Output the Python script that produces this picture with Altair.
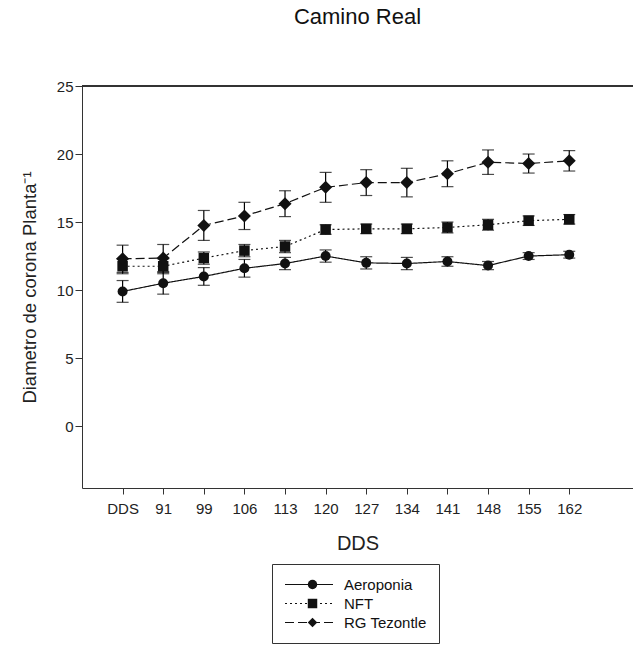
import json
import altair as alt
import pandas as pd

# ---- data ----
dias = ["DDS", "91", "99", "106", "113", "120", "127", "134", "141", "148", "155", "162"]
series = ["Aeroponia", "NFT", "RG Tezontle"]
aeroponia = [9.9, 10.5, 11.0, 11.6, 11.95, 12.5, 12.0, 11.95, 12.1, 11.8, 12.5, 12.6]
aeroponia_err = [0.8, 0.8, 0.65, 0.65, 0.45, 0.45, 0.45, 0.45, 0.35, 0.3, 0.25, 0.25]
nft = [11.75, 11.75, 12.35, 12.9, 13.2, 14.45, 14.5, 14.5, 14.6, 14.8, 15.1, 15.2]
nft_err = [0.55, 0.55, 0.45, 0.45, 0.45, 0.35, 0.35, 0.35, 0.4, 0.4, 0.35, 0.35]
rg_tezontle = [12.3, 12.35, 14.75, 15.45, 16.35, 17.55, 17.9, 17.9, 18.55, 19.4, 19.3, 19.5]
rg_tezontle_err = [1.0, 1.0, 1.1, 1.0, 0.95, 1.1, 0.95, 1.05, 0.95, 0.9, 0.7, 0.75]
y_ticks = [0, 5, 10, 15, 20, 25]

valores = [aeroponia, nft, rg_tezontle]
errores = [aeroponia_err, nft_err, rg_tezontle_err]

# marker legend uses a separate key (so it is not merged with the line legend)
series_marker = [s + "\u200b" for s in series]
marker_sizes = [100, 110, 170]  # style: symbol area per series

rows = []
for s, sm, vals, errs in zip(series, series_marker, valores, errores):
    for i, (d, v, e) in enumerate(zip(dias, vals, errs)):
        rows.append({"idx": i + 1, "dia": d, "serie": s, "serie_s": sm, "valor": v, "err": e})
df = pd.DataFrame(rows)

FONT = "Liberation Sans"
INK = "#111111"
AX = "#333333"

x_enc = alt.X(
    "idx:Q",
    scale=alt.Scale(domain=[0, 13.57], nice=False, zero=False),
    axis=alt.Axis(
        title="DDS",
        values=list(range(1, len(dias) + 1)),
        labelExpr=f"{json.dumps(dias)}[datum.value - 1]",
        grid=False,
        tickSize=6,
        labelPadding=7,
        titlePadding=17,
        titleFontSize=20,
    ),
)
y_scale = alt.Scale(domain=[-4.55, 25], nice=False, zero=False)
y_enc = alt.Y(
    "valor:Q",
    scale=y_scale,
    axis=alt.Axis(
        title="Diametro de corona Planta⁻¹",
        values=y_ticks,
        grid=False,
        tickSize=7,
        labelPadding=2,
        titlePadding=17,
        titleFontSize=18.5,
    ),
)

base = alt.Chart(df)

lines = base.mark_line(color=INK, strokeWidth=1.2).encode(
    x=x_enc,
    y=y_enc,
    strokeDash=alt.StrokeDash(
        "serie:N",
        scale=alt.Scale(domain=series, range=[[1, 0], [2, 3], [9, 4]]),
        legend=alt.Legend(
            title=None,
            orient="none",
            legendX=190,
            legendY=478,
            direction="vertical",
            symbolType="stroke",
            symbolSize=2304,
            symbolStrokeWidth=1.2,
            symbolStrokeColor=INK,
            strokeColor=AX,
            padding=12,
            labelFont=FONT,
            labelFontSize=15,
            labelColor=INK,
            labelOffset=10,
            clipHeight=17,
            rowPadding=2,
        ),
    ),
    detail="serie:N",
)

bars = base.transform_calculate(
    lo="datum.valor - datum.err", hi="datum.valor + datum.err"
).mark_rule(color="#000000", strokeWidth=1.2).encode(
    x="idx:Q",
    y=alt.Y("lo:Q", scale=y_scale),
    y2="hi:Q",
)

caps = base.transform_calculate(
    lo="datum.valor - datum.err", hi="datum.valor + datum.err"
).transform_fold(["lo", "hi"], as_=["k", "v"]).mark_tick(
    color="#000000", orient="horizontal", size=12, thickness=1.2
).encode(
    x="idx:Q",
    y=alt.Y("v:Q", scale=y_scale),
)

points = base.transform_calculate(
    msize=f"{json.dumps(marker_sizes)}[indexof({json.dumps(series)}, datum.serie)]"
).mark_point(filled=True, opacity=1, color=INK).encode(
    x="idx:Q",
    y=alt.Y("valor:Q", scale=y_scale),
    shape=alt.Shape(
        "serie_s:N",
        scale=alt.Scale(domain=series_marker, range=["circle", "square", "diamond"]),
        legend=alt.Legend(
            title=None,
            orient="none",
            legendX=190,
            legendY=478,
            direction="vertical",
            symbolSize=90,
            symbolFillColor=INK,
            symbolStrokeColor=INK,
            symbolStrokeWidth=0,
            symbolOffset=21,
            padding=12,
            labelExpr="''",
            labelFontSize=15,
            labelOffset=10,
            clipHeight=17,
            rowPadding=2,
        ),
    ),
    size=alt.Size("msize:Q", scale=None),
)

top_line = alt.Chart(df).mark_rule(color=AX, strokeWidth=1).encode(
    y=alt.datum(25, scale=y_scale)
)

chart = (
    alt.layer(top_line, lines, bars, caps, points)
    .properties(
        width=551,
        height=402,
        title=alt.TitleParams(
            "Camino Real",
            font=FONT,
            fontSize=22,
            fontWeight="normal",
            color=INK,
            anchor="middle",
            offset=50,
        ),
        autosize=alt.AutoSizeParams(type="none"),
        padding={"left": 82, "top": 86, "right": 0, "bottom": 157},
    )
    .configure_view(stroke=None)
    .configure_axis(
        domainColor=AX,
        tickColor=AX,
        labelFont=FONT,
        labelFontSize=15,
        labelColor="#222222",
        titleFont=FONT,
        titleFontWeight="normal",
        titleColor="#222222",
    )
)

chart.save("out.html", embed_options={"renderer": "svg", "actions": False})
